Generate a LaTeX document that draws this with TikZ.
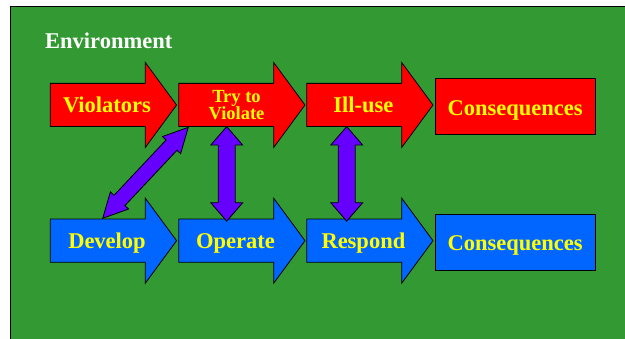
\documentclass[tikz,border=0pt]{standalone}
\usepackage{fontspec}
\setmainfont{Liberation Serif}
\usetikzlibrary{calc}

\definecolor{envgreen}{RGB}{51,153,51}
\definecolor{stepred}{RGB}{255,0,0}
\definecolor{stepblue}{RGB}{0,102,255}
\definecolor{linkviolet}{RGB}{102,0,255}
\definecolor{labelyellow}{RGB}{255,255,0}

% a wide flow arrow: left end x, axis y, fill colour
\newcommand{\flowarrow}[3]{%
  \filldraw[outline,fill=#3] (#1,#2) ++(0,-21.6) -- ++(95,0) -- ++(0,-20.9)
    -- ++(31.3,42.5) -- ++(-31.3,42.5) -- ++(0,-20.9) -- ++(-95,0) -- cycle;}

% a fat two-headed link between two named points:
% ends, head length, head half-width, shaft half-width
\newcommand{\twinlink}[5]{%
  \coordinate (ha) at ($(#1)!#3!(#2)$);
  \coordinate (hb) at ($(#2)!#3!(#1)$);
  \filldraw[outline,fill=linkviolet] (#1)
    -- ($(ha)!#4!90:(#2)$) -- ($(ha)!#5!90:(#2)$)
    -- ($(hb)!#5!90:(#2)$) -- ($(hb)!#4!90:(#2)$)
    -- (#2)
    -- ($(hb)!#4!-90:(#2)$) -- ($(hb)!#5!-90:(#2)$)
    -- ($(ha)!#5!-90:(#2)$) -- ($(ha)!#4!-90:(#2)$)
    -- cycle;}

\tikzset{
  outline/.style={draw=black,line width=0.8pt,line join=miter},
  steplabel/.style={text=labelyellow,inner sep=0pt,anchor=base,
    font=\bfseries\fontsize{22.5}{22.5}\selectfont},
  resultbox/.style={outline,rectangle,minimum width=160.3pt,minimum height=56pt,
    inner sep=0pt,text=labelyellow,text height=17.5pt,text depth=0pt,
    font=\bfseries\fontsize{22.5}{22.5}\selectfont},
}

\begin{document}
\begin{tikzpicture}[x=1pt,y=-1pt]
  \useasboundingbox (0,0) rectangle (625,339);
  \fill[white] (0,0) rectangle (625,339);
  \filldraw[fill=envgreen,draw=black,line width=0.8pt] (10.4,6.4) rectangle (630,345);

  \node[text=white,inner sep=0pt,anchor=base west,
    font=\bfseries\fontsize{22.5}{22.5}\selectfont] (env) at (45,49) {Environment};

  % attacker row
  \flowarrow{50.3}{105}{stepred}
  \flowarrow{178.7}{105}{stepred}
  \flowarrow{306.7}{105}{stepred}
  \node[resultbox,fill=stepred] (c1) at (515.2,106.3) {Consequences};
  \node[steplabel] (viol) at (107,112.7) {Violators};
  \node[text=labelyellow,inner sep=0pt,align=center,
    font=\bfseries\fontsize{18.5}{17.7}\selectfont] (try) at (236.5,105) {Try to\\Violate};
  \node[steplabel] (ill) at (363.4,112.7) {Ill-use};

  % defender row
  \flowarrow{50.3}{240.7}{stepblue}
  \flowarrow{178.7}{240.7}{stepblue}
  \flowarrow{306.7}{240.7}{stepblue}
  \node[resultbox,fill=stepblue] (c2) at (515.2,242.2) {Consequences};
  \node[steplabel] (dev) at (107,249) {Develop};
  \node[steplabel] (op) at (235.4,249) {Operate};
  \node[steplabel] (resp) at (363.4,249) {Respond};

  % link end points on the arrow bodies
  \coordinate (tryfoot) at (188.3,127.3);
  \coordinate (devtop) at (102.7,218.3);
  \coordinate (tryfoot2) at (226.7,126.6);
  \coordinate (optop) at (226.7,221.2);
  \coordinate (illfoot) at (346.7,126.6);
  \coordinate (resptop) at (346.7,221.2);

  \twinlink{tryfoot}{devtop}{24.5pt}{12.5pt}{7.5pt}
  \twinlink{tryfoot2}{optop}{18.5pt}{16pt}{8.5pt}
  \twinlink{illfoot}{resptop}{18.5pt}{16pt}{8.5pt}
\end{tikzpicture}
\end{document}
